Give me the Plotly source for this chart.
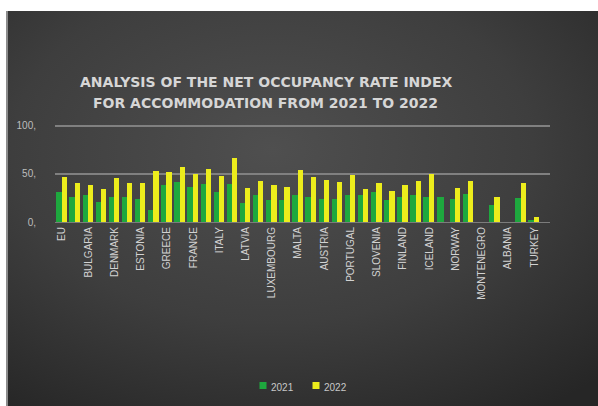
import base64
import plotly.graph_objects as go

# Net occupancy rate of bed places, by country
countries = [
    "EU", "BELGIUM", "BULGARIA", "CZECHIA", "DENMARK", "GERMANY", "ESTONIA",
    "IRELAND", "GREECE", "SPAIN", "FRANCE", "CROATIA", "ITALY", "CYPRUS",
    "LATVIA", "LITHUANIA", "LUXEMBOURG", "HUNGARY", "MALTA", "NETHERLANDS",
    "AUSTRIA", "POLAND", "PORTUGAL", "ROMANIA", "SLOVENIA", "SLOVAKIA",
    "FINLAND", "SWEDEN", "ICELAND", "LIECHTENSTEIN", "NORWAY", "SWITZERLAND",
    "MONTENEGRO", "NORTH MACEDONIA", "ALBANIA", "SERBIA", "TURKEY",
]
rate_2021 = [31, 26, 28, 21, 26, 26, 24, 12.5, 38, 42, 36, 40, 31, 40,
             20, 28, 23, 23, 28, 26, 24, 24, 28, 28, 31, 23, 26, 28,
             26, 26, 24, 29, 0, 18, 0, 25, 2]
rate_2022 = [47, 41, 38.5, 34, 45.5, 41, 41, 53, 52, 57.5, 50, 55, 48, 67,
             35.5, 43, 38.5, 36, 54, 46.5, 44, 42, 49, 34, 41, 32.5, 38.5, 43,
             49.5, 0, 35.5, 42.5, 0, 26, 0, 41, 5.5]
series_names = ["2021", "2022"]
series_colors = ["#1ea83e", "#eded1c"]
y_ticks = [0, 50, 100]
y_tick_text = ["0,", "50,", "100,"]

# every other category carries a label on the axis
x_tick_idx = list(range(0, len(countries), 2))
x_tick_text = [countries[i] for i in x_tick_idx]
idx = list(range(len(countries)))

W, H = 598, 406
Y_MAX = 105
L, R, B = 55, 550, 222                  # plot area edges in pixels
T = round(B - Y_MAX * 0.96)
pw, ph = R - L, B - T


def px_x(p):
    return (p - L) / pw


def px_y(p):
    return (B - p) / ph


fig = go.Figure()
fig.add_trace(go.Bar(
    x=idx, y=rate_2021, name=series_names[0],
    width=0.55, offset=-0.45,
    marker=dict(color=series_colors[0], line=dict(width=0)),
))
fig.add_trace(go.Bar(
    x=idx, y=rate_2022, name=series_names[1],
    width=0.4, offset=-0.05,
    marker=dict(color=series_colors[1], line=dict(width=0)),
))

# dark panel with a soft radial glow
svg = """<svg xmlns='http://www.w3.org/2000/svg' width='592' height='395'>
<defs><radialGradient id='g' cx='45%' cy='35%' r='80%'>
<stop offset='0%' stop-color='#4f4f4f'/>
<stop offset='55%' stop-color='#3e3e3e'/>
<stop offset='100%' stop-color='#262626'/>
</radialGradient></defs>
<rect width='592' height='395' fill='url(#g)'/></svg>"""
bg_src = "data:image/svg+xml;base64," + base64.b64encode(svg.encode()).decode()

fig.add_layout_image(
    source=bg_src, xref="paper", yref="paper",
    x=px_x(6), y=px_y(11), sizex=(W - 6) / pw, sizey=(H - 11) / ph,
    xanchor="left", yanchor="top", sizing="stretch", layer="below",
)
fig.add_shape(type="line", xref="paper", yref="paper",
              x0=px_x(7), x1=px_x(7), y0=px_y(11), y1=px_y(H),
              line=dict(color="#8c8c8c", width=2))

title_font = dict(family="DejaVu Sans", size=14, color="#d6d6d6", weight="bold")
fig.add_annotation(text="ANALYSIS OF THE NET OCCUPANCY RATE INDEX",
                   xref="paper", yref="paper", x=px_x(266), y=px_y(72),
                   showarrow=False, font=title_font)
fig.add_annotation(text="FOR ACCOMMODATION FROM 2021 TO 2022",
                   xref="paper", yref="paper", x=px_x(265), y=px_y(93),
                   showarrow=False, font=title_font)

# compact legend under the chart
legend_font = dict(family="Liberation Sans", size=10, color="#c8c8c8")
for name, color, mx in zip(series_names, series_colors, [263, 316]):
    fig.add_shape(type="rect", xref="paper", yref="paper",
                  x0=px_x(mx - 3.5), x1=px_x(mx + 3.5),
                  y0=px_y(389), y1=px_y(382),
                  fillcolor=color, line=dict(width=0))
    fig.add_annotation(text=name, xref="paper", yref="paper",
                       x=px_x(mx + 6), y=px_y(385.5), xanchor="left",
                       yanchor="middle", yshift=-2,
                       showarrow=False, font=legend_font)

fig.update_layout(
    width=W, height=H,
    margin=dict(l=L, r=W - R, t=T, b=H - B),
    paper_bgcolor="white",
    plot_bgcolor="rgba(0,0,0,0)",
    barmode="overlay",
    bargap=0,
    showlegend=False,
    font=dict(family="Liberation Sans"),
)
fig.update_xaxes(
    range=[-0.55, 37.2],
    tickmode="array", tickvals=x_tick_idx, ticktext=x_tick_text,
    tickangle=-90, showgrid=False, zeroline=False,
    showline=True, linecolor="#7c7c7c", linewidth=1,
    tickfont=dict(family="Liberation Sans", size=10, color="#d2d2d2"),
    ticks="", fixedrange=True,
)
fig.update_yaxes(
    range=[0, Y_MAX],
    tickmode="array", tickvals=y_ticks, ticktext=y_tick_text,
    showgrid=True, gridcolor="#808080", gridwidth=1.5, zeroline=False,
    ticks="outside", ticklen=16, tickcolor="rgba(0,0,0,0)",
    tickfont=dict(family="Liberation Sans", size=10, color="#bdbdbd"),
    fixedrange=True,
)

fig.write_html("out.html")
